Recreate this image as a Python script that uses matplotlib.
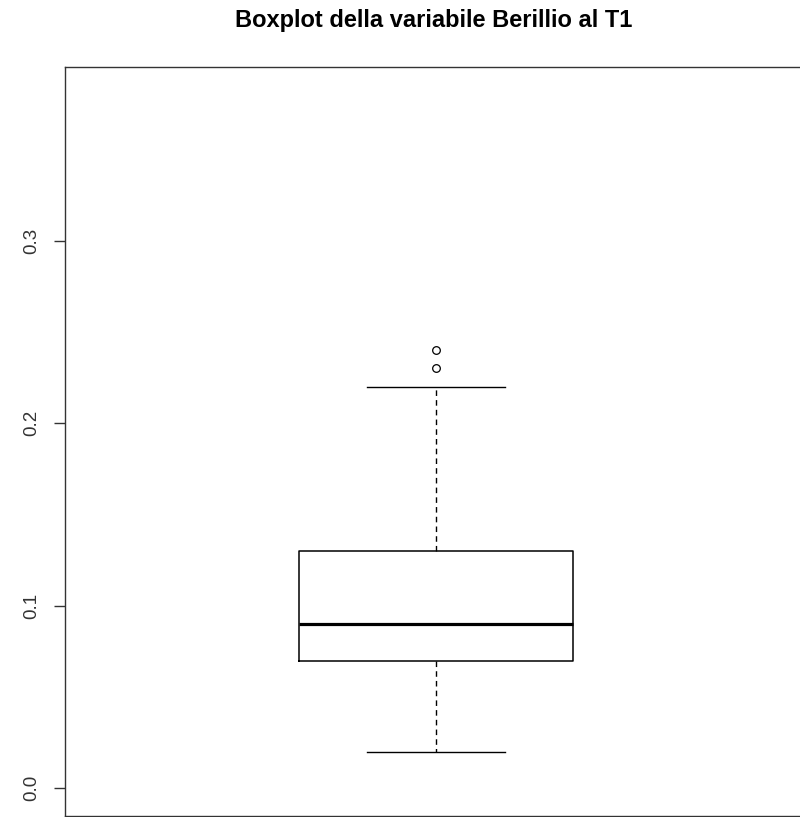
import matplotlib.pyplot as plt

plt.rcParams['font.family'] = ['Liberation Sans', 'DejaVu Sans']

# boxplot stats
whisker_low = 0.02
q1 = 0.07
median = 0.09
q3 = 0.13
whisker_high = 0.22
outliers = [0.23, 0.24]
yticks = [0.0, 0.1, 0.2, 0.3]
title = "Boxplot della variabile Berillio al T1"

stats = [{
    'whislo': whisker_low, 'q1': q1, 'med': median,
    'q3': q3, 'whishi': whisker_high, 'fliers': outliers,
}]

fig = plt.figure(figsize=(8, 8.17), dpi=100)
ax = fig.add_axes([65 / 800, 1 / 817, 742 / 800, 749 / 817])

ax.bxp(stats, positions=[1], widths=0.8, showfliers=True,
       boxprops=dict(color='black', linewidth=1.1),
       medianprops=dict(color='black', linewidth=2.3),
       whiskerprops=dict(color='black', linewidth=1.0, linestyle=(0, (4, 3))),
       capprops=dict(color='black', linewidth=1.0),
       capwidths=0.4,
       flierprops=dict(marker='o', markerfacecolor='none', markeredgecolor='black',
                       markersize=5.5, markeredgewidth=0.9))

ax.set_xlim(-0.08, 2.08)
ax.set_ylim(-0.0152, 0.3952)
ax.set_xticks([])
ax.set_yticks(yticks)
ax.set_yticklabels([f"{v:.1f}" for v in yticks], rotation=90, va='center',
                   fontsize=13.5, color='#333333')
ax.tick_params(axis='y', length=8, width=1, color='#333333', pad=10)
for s in ax.spines.values():
    s.set_color('#333333')
    s.set_linewidth(1)

fig.text(434 / 800, 1 - 27 / 817, title, ha='center', va='baseline',
         fontsize=17, fontweight='bold')

fig.savefig('out.png', dpi=100)
